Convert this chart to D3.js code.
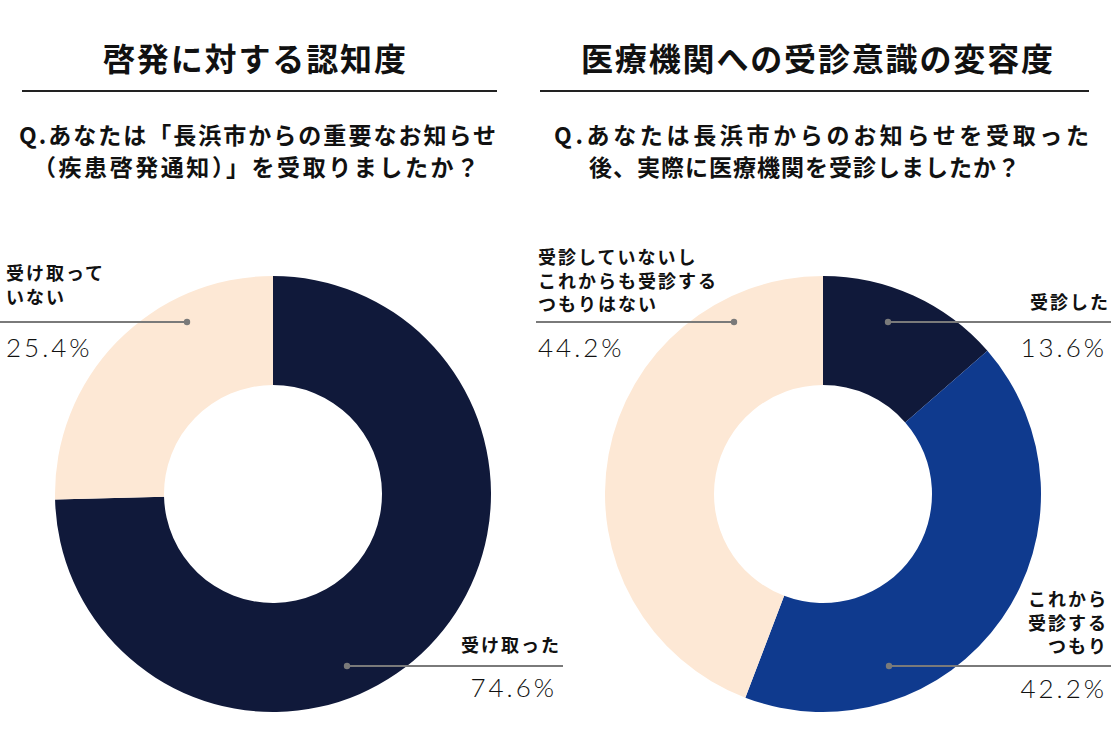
<!DOCTYPE html>
<html>
<head>
<meta charset="utf-8">
<script src="https://cdn.jsdelivr.net/npm/d3@7/dist/d3.min.js"></script>
<style>
  html, body { margin: 0; padding: 0; background: #fff; }
  svg { display: block; }
  .jp { font-family: "Noto Sans CJK JP", "Noto Sans CJK SC", sans-serif; }
  .pct { font-family: Lato, "Noto Sans", sans-serif; font-weight: 300; }
</style>
</head>
<body>
<svg id="chart" width="1111" height="744"></svg>
<script>
// ---- data ----
const titles = ["啓発に対する認知度", "医療機関への受診意識の変容度"];
const questionsLeft = ["Q.あなたは「長浜市からの重要なお知らせ", "（疾患啓発通知）」を受取りましたか？"];
const questionsRight = ["Q.あなたは長浜市からのお知らせを受取った", "後、実際に医療機関を受診しましたか？"];

const leftCategories = ["受け取った", "受け取っていない"];
const leftValues = [74.6, 25.4];
const leftLabelLines = [["受け取った"], ["受け取って", "いない"]];

const rightCategories = ["受診した", "これから受診するつもり", "受診していないしこれからも受診するつもりはない"];
const rightValues = [13.6, 42.2, 44.2];
const rightLabelLines = [["受診した"], ["これから", "受診する", "つもり"], ["受診していないし", "これからも受診する", "つもりはない"]];

const leftColors = ["#10193a", "#fde8d5"];
const rightColors = ["#10193a", "#0f3a8e", "#fde8d5"];

// ---- layout ----
const svg = d3.select("#chart");
const R = 218, r = 109;
const cy = 494;

const header = [
  { title: titles[0], tx: 103, tlen: 303, rule: [22, 497], q: questionsLeft,
    qx: [19, 33], qlen: [477, 446] },
  { title: titles[1], tx: 581, tlen: 472, rule: [540, 1089], q: questionsRight,
    qx: [554, 589], qlen: [535, 431] }
];
header.forEach(h => {
  svg.append("text").attr("class", "jp")
    .attr("x", h.tx).attr("y", 71)
    .attr("font-size", 32).attr("font-weight", 700).attr("fill", "#111")
    .attr("textLength", h.tlen).attr("lengthAdjust", "spacing")
    .text(h.title);
  svg.append("line")
    .attr("x1", h.rule[0]).attr("x2", h.rule[1]).attr("y1", 91).attr("y2", 91)
    .attr("stroke", "#222").attr("stroke-width", 2);
  h.q.forEach((line, i) => {
    svg.append("text").attr("class", "jp")
      .attr("x", h.qx[i]).attr("y", 143.5 + i * 32)
      .attr("font-size", 23).attr("font-weight", 700).attr("fill", "#111")
      .attr("textLength", h.qlen[i]).attr("lengthAdjust", "spacing")
      .text(line);
  });
});

const pie = d3.pie().sort(null).value(d => d);
const arc = d3.arc().innerRadius(r).outerRadius(R);

function donut(cx, values, colors, labelLines, labelLayout) {
  const g = svg.append("g").attr("transform", `translate(${cx},${cy})`);
  g.selectAll("path").data(pie(values)).join("path")
    .attr("d", arc).attr("fill", (d, i) => colors[i]);

  labelLayout.forEach((L, i) => {
    svg.append("line")
      .attr("x1", L.lineX[0]).attr("x2", L.lineX[1])
      .attr("y1", L.lineY).attr("y2", L.lineY)
      .attr("stroke", "#7a7a7a").attr("stroke-width", 2);
    svg.append("circle").attr("cx", L.dotX).attr("cy", L.lineY).attr("r", 3.2)
      .attr("fill", "#7a7a7a");
    const tx = L.anchor === "end" ? L.tx + 2 : L.tx;
    const label = svg.append("text").attr("class", "jp")
      .attr("x", tx).attr("y", L.ty0)
      .attr("text-anchor", L.anchor)
      .attr("font-size", 18).attr("font-weight", 700).attr("fill", "#111")
      .attr("letter-spacing", 2);
    labelLines[i].forEach((t, k) => {
      label.append("tspan").attr("x", tx).attr("dy", k === 0 ? 0 : L.lh).text(t);
    });
    svg.append("text").attr("class", "pct")
      .attr("x", L.anchor === "end" ? L.px + 3 : L.px)
      .attr("y", L.py)
      .attr("text-anchor", L.anchor)
      .attr("font-size", 26).attr("fill", "#111")
      .attr("letter-spacing", 3)
      .text(values[i].toFixed(1) + "%");
  });
}

donut(273, leftValues, leftColors, leftLabelLines, [
  { anchor: "end", tx: 559, ty0: 652, lh: 0, lineX: [347, 563], lineY: cy + 172, dotX: 347, px: 554, py: 697 },
  { anchor: "start", tx: 6, ty0: 279.5, lh: 24, lineX: [0, 187], lineY: cy - 172, dotX: 187, px: 6, py: 357 }
]);

donut(823, rightValues, rightColors, rightLabelLines, [
  { anchor: "end", tx: 1108, ty0: 309, lh: 0, lineX: [888, 1111], lineY: cy - 172, dotX: 888, px: 1104, py: 357 },
  { anchor: "end", tx: 1106, ty0: 606, lh: 23.5, lineX: [889, 1111], lineY: cy + 172, dotX: 889, px: 1104, py: 698 },
  { anchor: "start", tx: 538, ty0: 264, lh: 23.5, lineX: [536, 734], lineY: cy - 172, dotX: 734, px: 538, py: 357 }
]);
</script>
</body>
</html>
